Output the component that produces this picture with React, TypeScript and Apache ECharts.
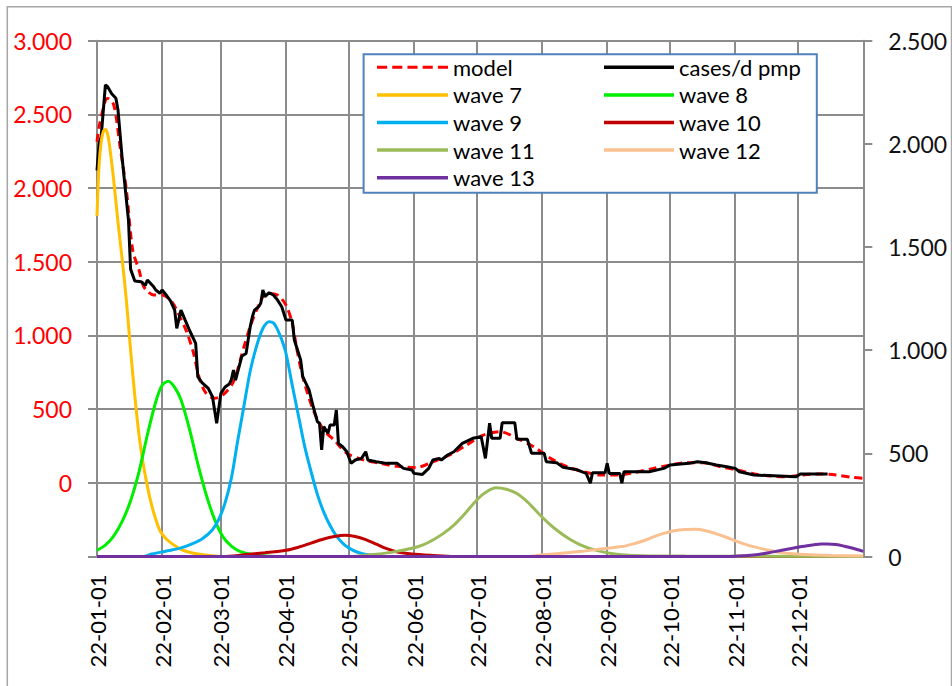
import React, { useEffect, useRef } from 'react';
import * as echarts from 'echarts';

// ---- categories: one per day, 2022-01-01 .. 2023-01-01 ----
const START_UTC = Date.UTC(2022, 0, 1);
const DAY_COUNT = 366;
const categories: string[] = [];
for (let i = 0; i < DAY_COUNT; i++) {
  const d = new Date(START_UTC + i * 86400000);
  const yy = String(d.getUTCFullYear()).slice(2);
  const mm = String(d.getUTCMonth() + 1).padStart(2, '0');
  const dd = String(d.getUTCDate()).padStart(2, '0');
  categories.push(`${yy}-${mm}-${dd}`);
}

// ---- left axis ticks / right axis ticks ----
const leftTicks = [-500, 0, 500, 1000, 1500, 2000, 2500, 3000];
const rightTicks = [0, 500, 1000, 1500, 2000, 2500];

// ---- series: [dayIndex, value] ----
const model: [number, number][] = [
  [0, 2314], [1, 2416], [4, 2596], [5, 2608], [8, 2563], [11, 2280], [14, 1986], [17, 1579],
  [20, 1444], [22, 1340], [24, 1300], [27, 1274], [31, 1274], [35, 1240], [38, 1172], [43, 1014],
  [46, 878], [49, 697], [52, 607], [56, 573], [60, 596], [65, 686], [70, 923], [73, 1060],
  [76, 1172], [81, 1286], [86, 1274], [90, 1206], [93, 1082], [95, 923], [98, 720], [103, 494],
  [108, 358], [113, 290], [119, 200], [127, 155], [135, 132], [143, 112], [152, 104], [160, 143],
  [168, 189], [176, 256], [184, 324], [192, 347], [200, 302], [208, 245], [216, 166], [224, 109],
  [232, 75], [240, 53], [248, 53], [256, 70], [265, 98], [273, 121], [281, 136], [289, 136],
  [297, 109], [305, 87], [313, 60], [321, 46], [329, 41], [336, 53], [344, 60], [352, 53],
  [360, 37], [365, 30],
];

const cases: [number, number][] = [
  [0, 2120], [1, 2300], [2, 2350], [4, 2700], [5, 2690], [7, 2640], [9, 2610], [10, 2530],
  [12, 2200], [15, 1780], [16, 1450], [18, 1370], [21, 1365], [23, 1340], [24, 1376], [27, 1330],
  [28, 1308], [30, 1286], [31, 1308], [33, 1274], [35, 1235], [37, 1172], [38, 1048], [40, 1172],
  [42, 1104], [44, 1037], [47, 946], [48, 720], [50, 680], [53, 641], [55, 584], [57, 404],
  [59, 607], [61, 650], [63, 670], [64, 700], [65, 765], [66, 697], [69, 860], [71, 878],
  [72, 969], [73, 1060], [74, 1127], [75, 1172], [77, 1195], [78, 1218], [79, 1308], [80, 1263],
  [82, 1290], [84, 1274], [86, 1240], [88, 1195], [90, 1104], [93, 1104], [94, 969], [97, 833],
  [98, 720], [101, 630], [103, 516], [105, 414], [106, 404], [107, 223], [108, 381], [110, 336],
  [111, 392], [113, 392], [114, 494], [115, 268], [117, 245], [119, 211], [121, 132], [123, 155],
  [126, 166], [128, 211], [129, 155], [133, 143], [138, 132], [143, 132], [146, 98], [150, 87],
  [151, 64], [155, 57], [158, 98], [160, 155], [163, 166], [164, 155], [167, 189], [170, 211],
  [174, 268], [179, 302], [183, 313], [185, 166], [187, 404], [188, 302], [192, 302], [193, 408],
  [199, 408], [200, 295], [205, 295], [207, 200], [213, 200], [214, 143], [219, 136], [222, 105],
  [228, 91], [233, 64], [235, -3], [236, 68], [242, 68], [243, 132], [244, 64], [249, 64],
  [250, -3], [251, 75], [263, 75], [270, 98], [273, 121], [278, 128], [282, 132], [286, 143],
  [290, 136], [295, 121], [300, 109], [304, 98], [306, 75], [313, 53], [325, 46], [333, 41],
  [335, 60], [348, 60],
];

const wave7: [number, number][] = [
  [0, 1650], [1, 1900], [2, 2010], [3, 2060], [4, 2070], [5, 2050], [6, 1990], [8, 1820],
  [10, 1620], [12, 1440], [14, 1240], [16, 1000], [18, 780], [20, 590], [22, 450], [24, 340],
  [26, 250], [28, 180], [30, 125], [33, 85], [36, 60], [40, 35], [45, 18], [50, 10], [55, 4],
  [60, 0], [365, 0],
];
const wave8: [number, number][] = [
  [0, 30], [4, 55], [8, 100], [12, 170], [16, 270], [20, 410], [24, 590], [28, 750], [31, 830],
  [34, 850], [37, 820], [40, 760], [44, 620], [48, 450], [52, 300], [56, 180], [60, 95],
  [64, 50], [68, 25], [75, 8], [85, 0], [365, 0],
];
const wave9: [number, number][] = [
  [0, 0], [22, 0], [26, 12], [30, 20], [35, 30], [40, 42], [45, 60], [50, 85], [55, 130],
  [58, 180], [61, 260], [64, 380], [67, 560], [70, 730], [73, 900], [76, 1020], [79, 1105],
  [82, 1138], [84, 1132], [86, 1100], [88, 1050], [90, 985], [93, 830], [96, 680], [99, 530],
  [102, 410], [105, 300], [108, 215], [111, 150], [114, 100], [118, 55], [122, 30], [126, 15],
  [130, 7], [135, 0], [365, 0],
];
const wave10: [number, number][] = [
  [0, 0], [60, 0], [70, 8], [80, 18], [90, 30], [96, 45], [102, 65], [108, 85], [113, 97],
  [118, 103], [123, 97], [128, 82], [133, 60], [138, 38], [143, 22], [150, 12], [160, 5],
  [170, 0], [365, 0],
];
const wave11: [number, number][] = [
  [0, 0], [120, 0], [130, 8], [140, 20], [150, 40], [155, 55], [160, 80], [165, 112],
  [170, 152], [175, 205], [181, 275], [185, 310], [190, 333], [195, 326], [200, 305],
  [205, 265], [210, 212], [215, 162], [220, 120], [225, 85], [230, 58], [235, 38], [240, 25],
  [245, 15], [250, 9], [260, 4], [280, 2], [365, 0],
];
const wave12: [number, number][] = [
  [0, 0], [205, 0], [212, 8], [220, 15], [230, 24], [240, 36], [250, 48], [255, 60], [260, 75],
  [265, 95], [270, 112], [275, 125], [280, 131], [285, 132], [290, 125], [295, 110], [300, 92],
  [305, 72], [310, 55], [315, 42], [320, 30], [325, 20], [330, 14], [340, 8], [350, 5], [365, 2],
];
const wave13: [number, number][] = [
  [0, 0], [300, 0], [305, 2], [310, 5], [315, 10], [320, 18], [325, 28], [330, 38], [335, 47],
  [340, 55], [345, 60], [348, 61], [352, 58], [356, 50], [360, 40], [365, 25],
];

const FONT = 'Lato, "Open Sans", sans-serif';
const GRID_COLOR = '#8c8c8c';
const SOLID_ICON = 'rect';
const DASH_ICON =
  'path://M0,0h10v3h-10zM15,0h10v3h-10zM30,0h10v3h-10zM45,0h10v3h-10zM60,0h10v3h-10z';

const fmt = (v: number) => {
  const s = String(Math.abs(v));
  const withDots = s.replace(/\B(?=(\d{3})+(?!\d))/g, '.');
  return (v < 0 ? '-' : '') + withDots;
};

const isMonthStart = (_i: number, v: string) => v.slice(6) === '01';

export default function App() {
  const ref = useRef<HTMLDivElement>(null);
  useEffect(() => {
    if (!ref.current) return;
    const chart = echarts.init(ref.current, undefined, { renderer: 'svg' });

    const waveSeries = (name: string, data: [number, number][], color: string) => ({
      name,
      type: 'line',
      yAxisIndex: 1,
      data,
      symbol: 'none',
      smooth: 0.3,
      lineStyle: { color, width: 3 },
      itemStyle: { color },
      z: 2,
    });

    const legendText = { fontFamily: FONT, fontSize: 22, color: '#000', lineHeight: 23 };
    const legendCommon = {
      orient: 'vertical',
      top: 55.8,
      padding: 0,
      itemHeight: 3.5,
      itemGap: 4.6,
      selectedMode: false,
      textStyle: legendText,
      z: 5,
    };

    chart.setOption({
      animation: false,
      backgroundColor: '#fff',
      grid: { left: 97, right: 88.7, top: 40.7, bottom: 129.5, containLabel: false },
      xAxis: {
        type: 'category',
        data: categories,
        boundaryGap: false,
        axisLine: { show: true, lineStyle: { color: GRID_COLOR, width: 2 } },
        axisTick: { show: false },
        axisLabel: {
          interval: (i: number, v: string) => isMonthStart(i, v) && i < DAY_COUNT - 1,
          rotate: 90,
          margin: 18,
          fontFamily: FONT,
          fontSize: 22,
          color: '#000',
        },
        splitLine: {
          show: true,
          interval: isMonthStart,
          lineStyle: { color: GRID_COLOR, width: 2 },
        },
      },
      yAxis: [
        {
          type: 'value',
          min: leftTicks[0],
          max: leftTicks[leftTicks.length - 1],
          interval: 500,
          position: 'left',
          axisLine: { show: true, lineStyle: { color: GRID_COLOR, width: 2 } },
          axisTick: { show: true, length: 9, lineStyle: { color: GRID_COLOR, width: 2 } },
          axisLabel: {
            margin: 25,
            fontFamily: FONT,
            fontSize: 23,
            color: '#ff0000',
            formatter: (v: number) => (v < 0 ? '' : fmt(v)),
          },
          splitLine: { show: true, lineStyle: { color: GRID_COLOR, width: 2 } },
        },
        {
          type: 'value',
          min: rightTicks[0],
          max: rightTicks[rightTicks.length - 1],
          interval: 500,
          position: 'right',
          axisLine: { show: true, lineStyle: { color: GRID_COLOR, width: 2 } },
          axisTick: { show: true, length: 9, lineStyle: { color: GRID_COLOR, width: 2 } },
          axisLabel: {
            margin: 25,
            fontFamily: FONT,
            fontSize: 23,
            color: '#111',
            formatter: (v: number) => fmt(v),
          },
          splitLine: { show: false },
        },
      ],
      legend: [
        {
          ...legendCommon,
          left: 377,
          itemWidth: 71,
          data: [
            { name: 'model', icon: DASH_ICON },
            { name: 'wave 7', icon: SOLID_ICON },
            { name: 'wave 9', icon: SOLID_ICON },
            { name: 'wave 11', icon: SOLID_ICON },
            { name: 'wave 13', icon: SOLID_ICON },
          ],
        },
        {
          ...legendCommon,
          left: 604,
          itemWidth: 70,
          data: [
            { name: 'cases/d pmp', icon: SOLID_ICON },
            { name: 'wave 8', icon: SOLID_ICON },
            { name: 'wave 10', icon: SOLID_ICON },
            { name: 'wave 12', icon: SOLID_ICON },
          ],
        },
      ],
      graphic: [
        {
          type: 'rect',
          shape: { x: 363.6, y: 54.3, width: 453.2, height: 138.4 },
          style: { fill: '#fff', stroke: '#4f81bd', lineWidth: 2 },
          z: 3,
        },
        {
          type: 'rect',
          shape: { x: 7.3, y: 6.7, width: 944.2, height: 700 },
          style: { fill: 'none', stroke: '#a6a6a6', lineWidth: 1.5 },
          z: 10,
          silent: true,
        },
      ],
      series: [
        {
          name: 'model',
          type: 'line',
          yAxisIndex: 0,
          data: model,
          symbol: 'none',
          smooth: 0.3,
          lineStyle: { color: '#ff0000', width: 3, type: [8, 5] },
          itemStyle: { color: '#ff0000' },
          z: 2,
        },
        {
          name: 'cases/d pmp',
          type: 'line',
          yAxisIndex: 0,
          data: cases,
          symbol: 'none',
          lineStyle: { color: '#000000', width: 3 },
          itemStyle: { color: '#000000' },
          z: 2,
        },
        waveSeries('wave 7', wave7, '#ffc000'),
        waveSeries('wave 8', wave8, '#00ee00'),
        waveSeries('wave 9', wave9, '#00b0f0'),
        waveSeries('wave 10', wave10, '#c00000'),
        waveSeries('wave 11', wave11, '#9bbb59'),
        waveSeries('wave 12', wave12, '#fac090'),
        waveSeries('wave 13', wave13, '#7030a0'),
      ],
    });

    return () => chart.dispose();
  }, []);

  return (
    <div
      ref={ref}
      style={{ position: 'fixed', left: 0, top: 0, width: 952, height: 686, background: '#fff' }}
    />
  );
}
